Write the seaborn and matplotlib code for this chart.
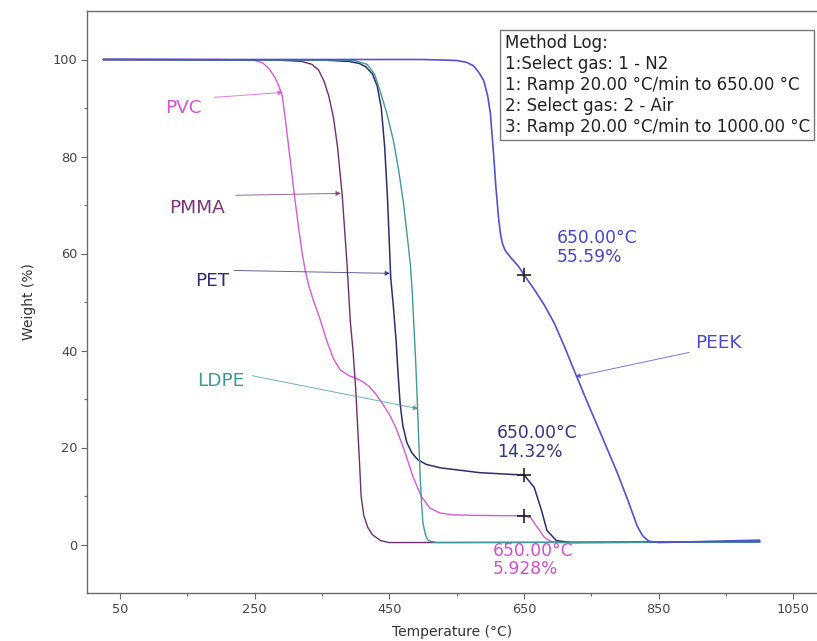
import numpy as np
import pandas as pd
import matplotlib
matplotlib.use("Agg")
import matplotlib.pyplot as plt
import seaborn as sns

# ---- data ----
pvc_t = [25, 200, 250, 262, 272, 280, 286, 291, 297, 303, 309, 315, 320, 325, 331, 338, 347, 357, 367, 377,
         390, 400, 410, 420, 430, 440, 450, 460, 472, 485, 497, 510, 525, 545, 580, 620, 650, 660, 670, 680,
         690, 700, 800, 900, 1000]
pvc_w = [100, 100, 99.8, 99.3, 98, 96.3, 94.5, 92.5, 86, 79, 72, 65.5, 60.5, 56.5, 53, 50, 46.5, 42, 38.3, 36,
         34.8, 34.3, 33.6, 32.6, 31, 29, 26.8, 24, 19.5, 14, 10, 7.5, 6.5, 6.1, 6.0, 5.95, 5.928, 5.5, 3.5, 1.5,
         0.6, 0.4, 0.4, 0.5, 0.6]

pmma_t = [25, 280, 320, 335, 345, 353, 360, 367, 373, 380, 387, 392, 396, 400, 403, 406, 408, 412, 418, 425,
          437, 450, 1000]
pmma_w = [100, 99.9, 99.6, 99, 97.8, 95.5, 92.5, 88, 82, 72, 58, 46, 40, 32, 24, 16, 10, 6, 3.5, 2,
          0.8, 0.4, 0.5]

pet_t = [25, 350, 390, 405, 415, 425, 432, 438, 443, 447, 450, 452, 456, 460, 463, 466, 470, 476, 483, 492,
         505, 526, 585, 650, 665, 676, 684, 698, 720, 1000]
pet_w = [100, 99.9, 99.6, 99.2, 98.5, 97, 94.5, 90, 82, 72, 62, 55, 49, 42, 35, 29, 24.5, 21, 19, 17.5,
         16.5, 15.8, 14.8, 14.32, 11.8, 7, 2.9, 0.8, 0.4, 0.6]

ldpe_t = [25, 380, 400, 417, 428, 436, 446, 456, 464, 471, 477, 481, 484, 486, 489, 492, 494, 496, 498, 500,
          504, 508, 520, 1000]
ldpe_w = [100, 99.9, 99.7, 99, 97, 93.6, 89, 83.3, 77, 70.3, 63, 58, 52, 46.2, 38, 27.6, 20, 13.2, 8, 4.3,
          1.8, 0.8, 0.4, 0.5]

peek_t = [25, 500, 550, 565, 575, 583, 590, 596, 600, 605, 608, 612, 615, 618, 622, 630, 642, 650, 665, 680,
          695, 710, 727, 745, 765, 789, 805, 818, 826, 835, 850, 1000]
peek_w = [100, 100, 99.8, 99.4, 98.7, 97.3, 95.7, 92.5, 88.9, 80, 74, 67.5, 64, 62, 60.6, 59.2, 57.3, 55.59,
          52.6, 49.4, 45.6, 40.8, 35, 29, 22.5, 14.6, 8.8, 3.8, 1.8, 0.7, 0.4, 0.9]

series_names = ["PVC", "PMMA", "PET", "LDPE", "PEEK"]
series_colors = ["#d65ad6", "#6e2f6e", "#2d2d6e", "#3f9a98", "#5252cc"]
label_colors = ["#d455d4", "#7a3578", "#2e2e78", "#3a9a9a", "#4a4ad0"]

method_log = ["Method Log:", "1:Select gas: 1 - N2", "1: Ramp 20.00 \u00b0C/min to 650.00 \u00b0C",
              "2: Select gas: 2 - Air", "3: Ramp 20.00 \u00b0C/min to 1000.00 \u00b0C"]

marker_t = [650, 650, 650]
marker_w = [55.59, 14.32, 5.928]
marker_text = ["650.00\u00b0C\n55.59%", "650.00\u00b0C\n14.32%", "650.00\u00b0C\n5.928%"]
marker_colors = ["#4545c8", "#35357e", "#d050d0"]

x_ticks = [50, 250, 450, 650, 850, 1050]
y_ticks = [0, 20, 40, 60, 80, 100]

# ---- build long table ----
frames = []
for name, t, w in zip(series_names, [pvc_t, pmma_t, pet_t, ldpe_t, peek_t],
                      [pvc_w, pmma_w, pet_w, ldpe_w, peek_w]):
    frames.append(pd.DataFrame({"T": t, "W": w, "polymer": name}))
df = pd.concat(frames, ignore_index=True)

sns.set_theme(style="ticks")
plt.rcParams["font.family"] = ["DejaVu Sans"]

fig = plt.figure(figsize=(8.17, 6.41), dpi=100)
ax = fig.add_axes([87 / 817, 48 / 641, (817 - 87) / 817, (593 - 11) / 641])

widths = {"PVC": 1.0, "PMMA": 1.0, "PET": 1.1, "LDPE": 1.0, "PEEK": 1.2}
for name, col in zip(series_names, series_colors):
    sub = df[df["polymer"] == name]
    sns.lineplot(data=sub, x="T", y="W", ax=ax, color=col, lw=widths[name],
                 estimator=None, sort=False, legend=False)

ax.set_xlim(1, 1085)
ax.set_ylim(-10, 110)
ax.set_xticks(x_ticks)
ax.set_yticks(y_ticks)
ax.set_xticks([150, 350, 550, 750, 950], minor=True)
ax.set_yticks([10, 30, 50, 70, 90], minor=True)
ax.tick_params(axis="both", which="major", length=4, width=0.8, colors="#666666",
               labelcolor="#444444", labelsize=9.3, pad=3)
ax.tick_params(axis="both", which="minor", length=2.5, width=0.8, colors="#666666")
for s in ["left", "bottom", "top"]:
    ax.spines[s].set_color("#6a6a6a")
    ax.spines[s].set_linewidth(1.0)
ax.spines["right"].set_visible(False)
ax.set_xlabel("Temperature (\u00b0C)", fontsize=10, color="#333333", labelpad=7)
ax.set_ylabel("Weight (%)", fontsize=10, color="#333333", labelpad=12)

# markers
sns.scatterplot(x=marker_t, y=marker_w, ax=ax, marker="+", s=100, color="#222222",
                linewidth=1.2, legend=False, zorder=5)

# marker annotations
ax.text(699, 65.0, marker_text[0], color=marker_colors[0], fontsize=12.3, va="top", ha="left", linespacing=1.05)
ax.text(610, 24.8, marker_text[1], color=marker_colors[1], fontsize=12.3, va="top", ha="left", linespacing=1.05)
ax.text(603, 0.6, marker_text[2], color=marker_colors[2], fontsize=12.3, va="top", ha="left", linespacing=1.05)

# series labels with arrows
label_pos = [(144, 89.9), (165, 69.3), (187, 54.4), (200, 33.8), (939, 41.6)]
arrow_start = [(190, 92.2), (222, 72.0), (220, 56.5), (246, 34.8), (895, 39.6)]
arrow_end = [(292, 93.2), (378, 72.4), (451, 55.9), (493, 28.0), (726, 34.6)]
for name, lc, lp, a0, a1 in zip(series_names, label_colors, label_pos, arrow_start, arrow_end):
    ax.text(lp[0], lp[1], name, color=lc, fontsize=13.3, ha="center", va="center")
    ax.annotate("", xy=a1, xytext=a0,
                arrowprops=dict(arrowstyle="-|>", color=lc, lw=0.7, alpha=0.75,
                                mutation_scale=7, shrinkA=0, shrinkB=0))

# method log box
ax.text(0.572, 0.961, "\n".join(method_log), transform=ax.transAxes, fontsize=12,
        color="#222222", va="top", ha="left", linespacing=1.22,
        bbox=dict(boxstyle="square,pad=0.25", fc="white", ec="#777777", lw=1.0))

fig.savefig("out.png", dpi=100)
